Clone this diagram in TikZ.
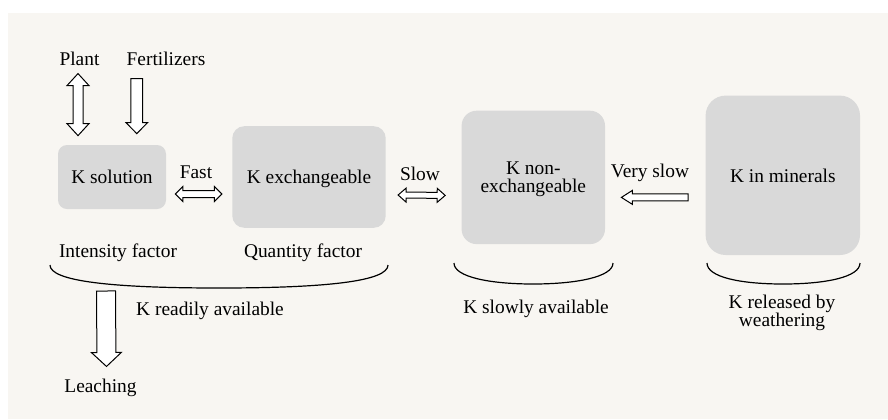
\documentclass[tikz,border=0pt]{standalone}
\usepackage{fontspec}
\setmainfont{Liberation Serif}
\usetikzlibrary{calc}
\definecolor{paper}{HTML}{F8F6F2}
\definecolor{boxgray}{HTML}{D9D9D9}
\tikzset{
  pool/.style={fill=boxgray, inner sep=0pt, align=center, text depth=0pt},
  lbl/.style={inner sep=0pt, anchor=base, align=center},
  brace/.style={line width=0.6pt},
  onearrow/.style n args={3}{fill=white, line width=0.5pt, to path={
    let \p1=(\tikztostart), \p2=(\tikztotarget),
        \n1={atan2(\y2-\y1,\x2-\x1)}, \n2={veclen(\x2-\x1,\y2-\y1)} in
    ($(\p1)+(\n1+90:#1)$) -- ($(\p1)+(\n1:{\n2-#3})+(\n1+90:#1)$)
    -- ($(\p1)+(\n1:{\n2-#3})+(\n1+90:#2)$) -- (\p2)
    -- ($(\p1)+(\n1:{\n2-#3})+(\n1-90:#2)$) -- ($(\p1)+(\n1:{\n2-#3})+(\n1-90:#1)$)
    -- ($(\p1)+(\n1-90:#1)$) -- cycle}},
  twoarrow/.style n args={3}{fill=white, line width=0.5pt, to path={
    let \p1=(\tikztostart), \p2=(\tikztotarget),
        \n1={atan2(\y2-\y1,\x2-\x1)}, \n2={veclen(\x2-\x1,\y2-\y1)} in
    ($(\p1)+(\n1:#3)+(\n1+90:#1)$) -- ($(\p1)+(\n1:{\n2-#3})+(\n1+90:#1)$)
    -- ($(\p1)+(\n1:{\n2-#3})+(\n1+90:#2)$) -- (\p2)
    -- ($(\p1)+(\n1:{\n2-#3})+(\n1-90:#2)$) -- ($(\p1)+(\n1:{\n2-#3})+(\n1-90:#1)$)
    -- ($(\p1)+(\n1:#3)+(\n1-90:#1)$) -- ($(\p1)+(\n1:#3)+(\n1-90:#2)$) -- (\p1)
    -- ($(\p1)+(\n1:#3)+(\n1+90:#2)$) -- cycle}},
}
\begin{document}
\begin{tikzpicture}[x=0.5pt,y=-0.5pt,font=\fontsize{9.7}{9.2}\selectfont]
  \useasboundingbox (0,0) rectangle (888,419);
  \fill[paper] (8,13) rectangle (888,419);

  \node[pool, rounded corners=4.5pt, minimum width=54pt, minimum height=32pt] (sol) at (112,177) {K solution};
  \node[pool, rounded corners=6pt, minimum width=76.7pt, minimum height=50.8pt] (exch) at (309,177) {K exchangeable};
  \node[pool, rounded corners=7.5pt, minimum width=71.7pt, minimum height=66.7pt] (nonex) at (533.3,177.4) {K non-\\exchangeable};
  \node[pool, rounded corners=10pt, minimum width=77.2pt, minimum height=79.7pt] (minerals) at (782.8,175.3) {K in minerals};

  \node[lbl] (plant) at (79.5,65) {Plant};
  \node[lbl] (fert) at (166,65) {Fertilizers};
  \node[lbl] (fast) at (196,178.3) {Fast};
  \node[lbl] (slow) at (420,180) {Slow};
  \node[lbl] (vslow) at (650,177.7) {Very slow};
  \node[lbl] (intens) at (118,257.3) {Intensity factor};
  \node[lbl] (quant) at (303,257) {Quantity factor};
  \node[lbl] (ready) at (210,315) {K readily available};
  \node[lbl] (slowly) at (536,313.3) {K slowly available};
  \node[lbl] (released) at (782,326.7) {K released by\\weathering};
  \node[lbl] (leach) at (100.5,392.3) {Leaching};
  \coordinate (leachtop) at (106,291);

  \draw[twoarrow={2.5pt}{5.5pt}{6pt}] ($(plant.south)+(-1.5,8)$) to ($(plant.south|-sol.north)+(-1.5,-9)$);
  \draw[onearrow={2.9pt}{5.4pt}{5.5pt}] ($(fert.south west)+(10.5,13)$) to ($(fert.south west|-sol.north)+(10.5,-11)$);
  \draw[twoarrow={1.75pt}{3.75pt}{3.75pt}] ($(sol.east)+(9,17)$) to ($(exch.west)+(-10,17)$);
  \draw[twoarrow={1.5pt}{3.5pt}{4pt}] ($(exch.east)+(12,18)$) to ($(nonex.west)+(-16,18)$);
  \draw[onearrow={1.75pt}{3.5pt}{5.5pt}] ($(minerals.west)+(-17,22)$) to ($(nonex.east)+(16,20)$);
  \draw[onearrow={4.75pt}{7.5pt}{7pt}] (leachtop) to ($(leach.north)+(6,-12)$);

  \draw[brace] (50,265) .. controls (50,281) and (110,288) .. (219,288) .. controls (328,288) and (388,281) .. (388,265);
  \draw[brace] (454,263) .. controls (454,277) and (490,284) .. (533,284) .. controls (576,284) and (613,277) .. (613,263);
  \draw[brace] (707,263) .. controls (707,277) and (740,284) .. (783,284) .. controls (826,284) and (860,277) .. (860,263);
\end{tikzpicture}
\end{document}
